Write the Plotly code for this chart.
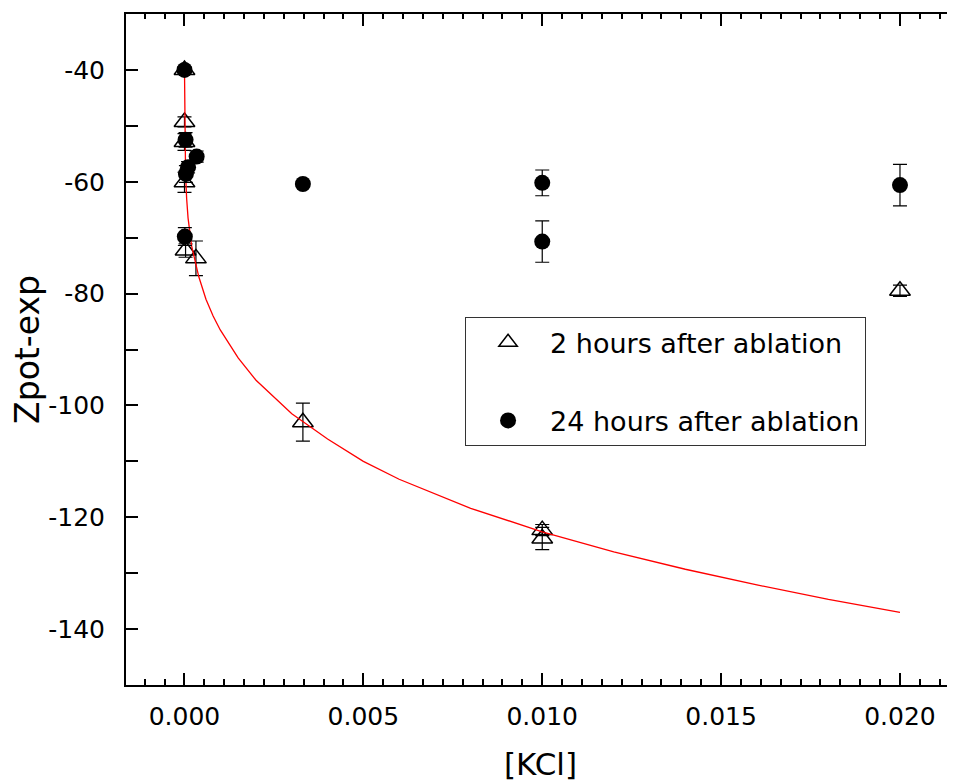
import plotly.graph_objects as go

# ---- data ----
tri_x = [0.0, 0.0, 0.0, 0.0, 0.00003, 0.00032, 0.00331, 0.0100, 0.0100, 0.0200]
tri_y = [-40.0, -49.3, -52.9, -60.1, -72.3, -73.7, -103.0, -122.3, -123.8, -79.5]
tri_err = [0.5, 0.9, 1.5, 1.8, 1.2, 3.1, 3.4, 1.0, 2.0, 1.0]

circ_x = [0.0, 0.00003, 0.0001, 0.00004, 0.00034, 0.00001, 0.00331, 0.0100, 0.0100, 0.0200]
circ_y = [-40.0, -52.5, -57.4, -58.6, -55.5, -69.8, -60.4, -60.2, -70.7, -60.6]
circ_err = [0.5, 1.3, 1.0, 1.5, 1.0, 1.6, 0.4, 2.3, 3.7, 3.7]

fit_x = [0.0, 0.00001, 0.00003, 0.00006, 0.0001, 0.0002, 0.0003, 0.0004, 0.0006, 0.0008,
         0.001, 0.0015, 0.002, 0.003, 0.004, 0.005, 0.006, 0.008, 0.010, 0.012,
         0.014, 0.016, 0.018, 0.020]
fit_y = [-40.0, -53.0, -58.5, -63.0, -66.5, -71.5, -74.5, -77.0, -81.0, -84.0,
         -86.5, -91.5, -95.5, -101.5, -106.0, -110.0, -113.2, -118.4, -122.6, -126.2,
         -129.3, -132.1, -134.7, -137.0]

x_ticks = [0.0, 0.005, 0.010, 0.015, 0.020]
x_ticktext = ["0.000", "0.005", "0.010", "0.015", "0.020"]
y_ticks = [-140, -120, -100, -80, -60, -40]
y_ticktext = ["-140", "-120", "-100", "-80", "-60", "-40"]

series_names = ["2 hours after ablation", "24 hours after ablation"]

FONT = "DejaVu Sans, Arial, sans-serif"
X_RANGE = [-0.001635, 0.021538]
Y_RANGE = [-150, -30]

fig = go.Figure()

fig.add_trace(go.Scatter(
    x=tri_x, y=tri_y, mode="markers", name=series_names[0], legendgroup="a",
    marker=dict(symbol="triangle-up-open", size=18, color="black", line=dict(width=1.5, color="black")),
    error_y=dict(type="data", array=tri_err, visible=True, color="black", thickness=1.2, width=7),
))

fig.add_trace(go.Scatter(
    x=fit_x, y=fit_y, mode="lines", showlegend=False,
    line=dict(color="red", width=1.3),
))

fig.add_trace(go.Scatter(
    x=circ_x, y=circ_y, mode="markers", name=series_names[1], legendgroup="b",
    marker=dict(symbol="circle", size=16, color="black"),
    error_y=dict(type="data", array=circ_err, visible=True, color="black", thickness=1.2, width=7),
))

# empty traces that bring up the mirrored tick axes (right and top)
fig.add_trace(go.Scatter(x=[], y=[], yaxis="y2", showlegend=False, hoverinfo="skip"))
fig.add_trace(go.Scatter(x=[], y=[], xaxis="x2", showlegend=False, hoverinfo="skip"))

tick_common = dict(ticks="inside", tickwidth=2, tickcolor="black", showgrid=False, zeroline=False)

fig.update_layout(
    width=947, height=774,
    margin=dict(l=118, r=0, t=6, b=97),
    paper_bgcolor="white", plot_bgcolor="white",
    font=dict(family=FONT, color="black"),
    showlegend=True,
    legend=dict(
        x=0.409, y=0.548, xanchor="left", yanchor="top",
        bgcolor="white", bordercolor="#333333", borderwidth=1,
        font=dict(size=27, family=FONT, color="black"),
        tracegroupgap=40, itemwidth=74,
    ),
    xaxis=dict(
        range=X_RANGE,
        tickvals=x_ticks, ticktext=x_ticktext, ticklen=12,
        minor=dict(dtick=0.005 / 9, tick0=0, ticks="inside", ticklen=6, tickwidth=2, tickcolor="black"),
        showline=True, linewidth=2, linecolor="black", mirror=True,
        tickfont=dict(size=25, family=FONT, color="black"),
        ticklabelstandoff=8,
        title=dict(text="[KCl]", font=dict(size=31, family=FONT, color="black"), standoff=25),
        automargin=False,
        **tick_common,
    ),
    xaxis2=dict(
        range=X_RANGE, overlaying="x", side="top", anchor="y",
        tickvals=x_ticks, ticklen=12,
        minor=dict(dtick=0.005 / 9, tick0=0, ticks="inside", ticklen=5, tickwidth=2, tickcolor="black"),
        showline=False, showticklabels=False,
        **tick_common,
    ),
    yaxis=dict(
        range=Y_RANGE,
        tickvals=y_ticks, ticktext=y_ticktext, ticklen=12,
        minor=dict(dtick=10, tick0=0, ticks="inside", ticklen=12, tickwidth=2, tickcolor="black"),
        showline=True, linewidth=2, linecolor="black", mirror=False,
        tickfont=dict(size=25, family=FONT, color="black"),
        ticklabelstandoff=14,
        title=dict(text="Zpot-exp", font=dict(size=33, family=FONT, color="black"), standoff=8),
        automargin=False,
        **tick_common,
    ),
    yaxis2=dict(
        range=Y_RANGE, overlaying="y", side="right", anchor="x",
        tickvals=y_ticks, ticklen=8,
        minor=dict(dtick=10, tick0=0, ticks="inside", ticklen=2, tickwidth=2, tickcolor="black"),
        showline=False, showticklabels=False,
        **tick_common,
    ),
)

fig.write_html("out.html")
